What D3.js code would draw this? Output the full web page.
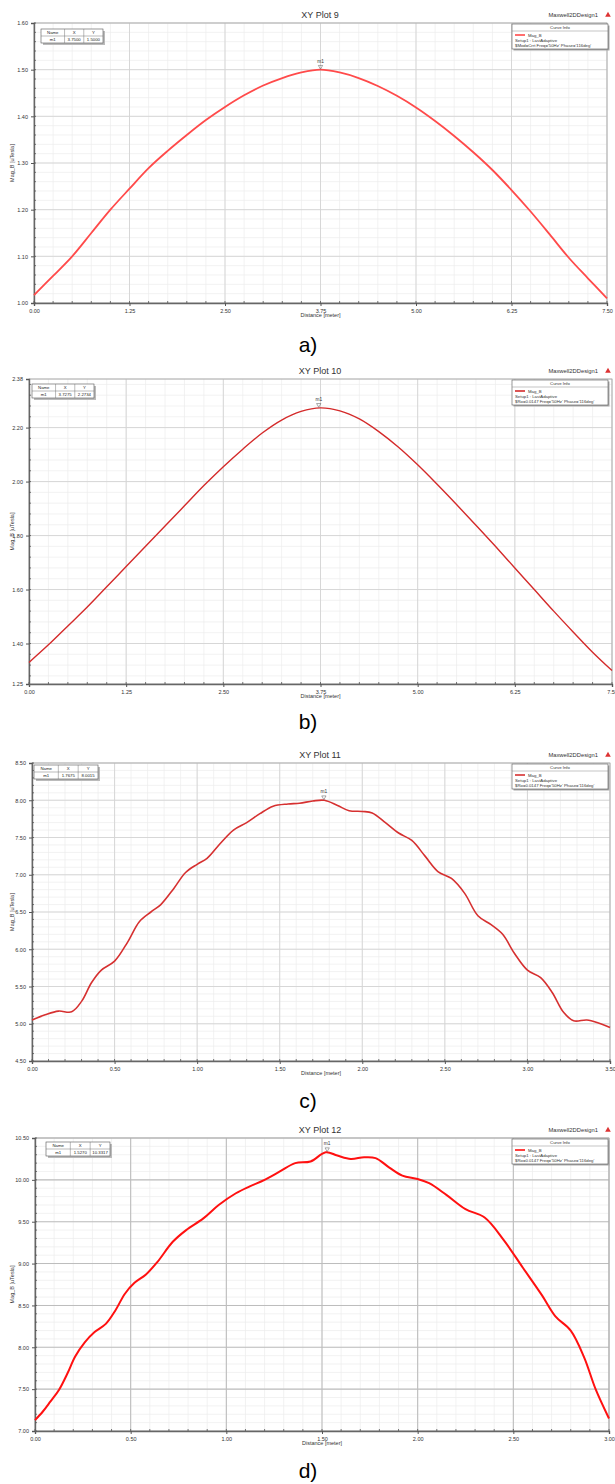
<!DOCTYPE html>
<html>
<head>
<meta charset="utf-8">
<script src="https://cdn.jsdelivr.net/npm/d3@7"></script>
<style>
  body { margin: 0; background: #fff; }
  svg text { font-family: Arial, "Liberation Sans", sans-serif; }
</style>
</head>
<body>
<svg id="fig" width="615" height="1484"></svg>
<script>
// ---- data ----
// a) XY Plot 9
const aDist = [0, 0.25, 0.5, 0.75, 1.0, 1.25, 1.5, 1.75, 2.0, 2.25, 2.5, 2.75, 3.0, 3.25, 3.5, 3.75,
  4.0, 4.25, 4.5, 4.75, 5.0, 5.25, 5.5, 5.75, 6.0, 6.25, 6.5, 6.75, 7.0, 7.25, 7.5];
const aMag = [1.017, 1.058, 1.100, 1.150, 1.200, 1.245, 1.289, 1.326, 1.360, 1.392, 1.420, 1.445, 1.466, 1.482, 1.494, 1.500,
  1.494, 1.482, 1.465, 1.444, 1.419, 1.390, 1.358, 1.323, 1.285, 1.242, 1.196, 1.147, 1.097, 1.053, 1.010];
const aYTicks = [1.00, 1.10, 1.20, 1.30, 1.40, 1.50, 1.60];
const aXTicks = [0, 1.25, 2.5, 3.75, 5.0, 6.25, 7.5];

// b) XY Plot 10
const bDist = aDist;
const bMag = [1.330, 1.395, 1.465, 1.535, 1.610, 1.685, 1.760, 1.835, 1.910, 1.985, 2.055, 2.120, 2.180, 2.228, 2.260, 2.273,
  2.262, 2.232, 2.185, 2.128, 2.062, 1.990, 1.915, 1.838, 1.760, 1.680, 1.600, 1.520, 1.443, 1.368, 1.300];
const bYTicks = [1.25, 1.40, 1.60, 1.80, 2.00, 2.20, 2.38];
const bXTicks = [0, 1.25, 2.5, 3.75, 5.0, 6.25, 7.5];

// c) XY Plot 11
const cDist = [0.00, 0.08, 0.16, 0.24, 0.30, 0.36, 0.42, 0.50, 0.58, 0.65, 0.72, 0.78, 0.86, 0.93, 1.00, 1.06, 1.14,
  1.22, 1.30, 1.38, 1.46, 1.55, 1.62, 1.70, 1.77, 1.85, 1.92, 2.00, 2.06, 2.14, 2.22, 2.30, 2.38, 2.46, 2.54,
  2.62, 2.70, 2.78, 2.85, 2.92, 3.00, 3.08, 3.15, 3.22, 3.28, 3.36, 3.43, 3.50];
const cMag = [5.05, 5.12, 5.17, 5.16, 5.30, 5.55, 5.72, 5.84, 6.10, 6.37, 6.50, 6.60, 6.82, 7.03, 7.14, 7.22, 7.42,
  7.60, 7.70, 7.82, 7.92, 7.95, 7.96, 7.99, 8.00, 7.93, 7.86, 7.85, 7.83, 7.70, 7.56, 7.46, 7.25, 7.04, 6.95,
  6.75, 6.45, 6.33, 6.20, 5.95, 5.72, 5.62, 5.42, 5.15, 5.04, 5.05, 5.01, 4.95];
const cYTicks = [4.50, 5.00, 5.50, 6.00, 6.50, 7.00, 7.50, 8.00, 8.50];
const cXTicks = [0, 0.5, 1.0, 1.5, 2.0, 2.5, 3.0, 3.5];

// d) XY Plot 12
const dDist = [0.00, 0.04, 0.08, 0.125, 0.17, 0.21, 0.26, 0.31, 0.37, 0.42, 0.47, 0.52, 0.58, 0.64, 0.72, 0.79, 0.88,
  0.96, 1.05, 1.12, 1.20, 1.28, 1.36, 1.44, 1.52, 1.58, 1.65, 1.72, 1.78, 1.85, 1.92, 2.00, 2.06, 2.15, 2.25,
  2.35, 2.45, 2.55, 2.65, 2.72, 2.80, 2.87, 2.93, 3.00];
const dMag = [7.13, 7.23, 7.35, 7.49, 7.69, 7.89, 8.06, 8.18, 8.28, 8.44, 8.64, 8.77, 8.87, 9.02, 9.26, 9.40, 9.54,
  9.70, 9.84, 9.92, 10.00, 10.10, 10.20, 10.22, 10.33, 10.29, 10.25, 10.27, 10.26, 10.15, 10.05, 10.01, 9.96, 9.82, 9.65,
  9.55, 9.28, 8.95, 8.62, 8.37, 8.20, 7.88, 7.50, 7.15];
const dYTicks = [7.00, 7.50, 8.00, 8.50, 9.00, 9.50, 10.00, 10.50];
const dXTicks = [0, 0.5, 1.0, 1.5, 2.0, 2.5, 3.0];

// marker tables
const markerX = ["3.7500", "3.7275", "1.7675", "1.5270"];
const markerY = ["1.5000", "2.2734", "8.0015", "10.3317"];
const markerAt = [[3.75, 1.50], [3.7275, 2.2734], [1.7675, 8.0015], [1.527, 10.3317]];

const svg = d3.select('svg#fig');

const panels = [
  {title: 'XY Plot 9', dist: aDist, mag: aMag, yTicks: aYTicks, xTicks: aXTicks, xDom: [0, 7.5], yDom: [1.0, 1.6],
   xMinor: 0.25, yMinor: 0.02, box: {l: 34, r: 607, t: 23, b: 303}, cap: 'a)', capY: 352, color: '#ff4a4a', lw: 1.8,
   tableW: 62, tableX: 7, tableY: 6, setup: "$Mod=Crrt Freq='50Hz' Phase='116deg'"},
  {title: 'XY Plot 10', dist: bDist, mag: bMag, yTicks: bYTicks, xTicks: bXTicks, xDom: [0, 7.5], yDom: [1.25, 2.38],
   xMinor: 0.25, yMinor: 0.04, box: {l: 29, r: 612, t: 379, b: 684}, cap: 'b)', capY: 729, color: '#d42a2a', lw: 1.4,
   tableW: 62, tableX: 3, tableY: 5, setup: "$Ro=0.0147 Freq='50Hz' Phase='116deg'"},
  {title: 'XY Plot 11', dist: cDist, mag: cMag, yTicks: cYTicks, xTicks: cXTicks, xDom: [0, 3.5], yDom: [4.5, 8.5],
   xMinor: 0.1, yMinor: 0.1, box: {l: 32, r: 610, t: 763, b: 1061}, cap: 'c)', capY: 1108, color: '#d63030', lw: 1.6,
   tableW: 64, tableX: 2, tableY: 2, setup: "$Ro=0.0147 Freq='50Hz' Phase='116deg'"},
  {title: 'XY Plot 12', dist: dDist, mag: dMag, yTicks: dYTicks, xTicks: dXTicks, xDom: [0, 3.0], yDom: [7.0, 10.5],
   xMinor: 0.1, yMinor: 0.1, box: {l: 35, r: 609, t: 1138, b: 1431}, cap: 'd)', capY: 1478, color: '#ff1010', lw: 2,
   tableW: 64, tableX: 11, tableY: 4, setup: "$Ro=0.0147 Freq='50Hz' Phase='116deg'", strongGrid: true}
];

panels.forEach((p, i) => drawPanel(p, i));

function drawPanel(p, i) {
  const b = p.box;
  const g = svg.append('g');
  const x = d3.scaleLinear().domain(p.xDom).range([b.l, b.r]);
  const y = d3.scaleLinear().domain(p.yDom).range([b.b, b.t]);

  // minor ticks / grid
  const xMin = d3.range(p.xDom[0], p.xDom[1] + 1e-9, p.xMinor);
  const yStart = Math.ceil(p.yDom[0] / p.yMinor - 1e-9) * p.yMinor;
  const yMin = d3.range(yStart, p.yDom[1] + 1e-9, p.yMinor);

  g.append('g').selectAll('line').data(xMin).join('line')
    .attr('x1', d => x(d)).attr('x2', d => x(d)).attr('y1', b.t).attr('y2', b.b)
    .attr('stroke', '#ececec').attr('stroke-width', 0.7);
  g.append('g').selectAll('line').data(yMin).join('line')
    .attr('x1', b.l).attr('x2', b.r).attr('y1', d => y(d)).attr('y2', d => y(d))
    .attr('stroke', '#ececec').attr('stroke-width', 0.7);

  // major grid
  const majorCol = p.strongGrid ? '#bdbdbd' : '#d4d4d4';
  g.append('g').selectAll('line').data(p.xTicks).join('line')
    .attr('x1', d => x(d)).attr('x2', d => x(d)).attr('y1', b.t).attr('y2', b.b)
    .attr('stroke', majorCol).attr('stroke-width', p.strongGrid ? 1.1 : 0.9);
  g.append('g').selectAll('line').data(p.yTicks).join('line')
    .attr('x1', b.l).attr('x2', b.r).attr('y1', d => y(d)).attr('y2', d => y(d))
    .attr('stroke', majorCol).attr('stroke-width', p.strongGrid ? 1.1 : 0.9);

  // frame
  g.append('rect').attr('x', b.l).attr('y', b.t).attr('width', b.r - b.l).attr('height', b.b - b.t)
    .attr('fill', 'none').attr('stroke', '#a8a8a8').attr('stroke-width', 0.8);

  // axes
  const xAxis = d3.axisBottom(x).tickValues(p.xTicks).tickFormat(d3.format('.2f')).tickSize(3).tickPadding(3);
  const yAxis = d3.axisLeft(y).tickValues(p.yTicks).tickFormat(d3.format('.2f')).tickSize(3).tickPadding(3);
  const gx = g.append('g').attr('transform', `translate(0,${b.b})`).call(xAxis);
  const gy = g.append('g').attr('transform', `translate(${b.l},0)`).call(yAxis);
  [gx, gy].forEach(a => {
    a.select('.domain').attr('stroke', '#666').attr('stroke-width', 1.4);
    a.selectAll('.tick line').attr('stroke', '#555');
    a.selectAll('text').attr('font-size', 5.5).attr('fill', '#333')
      .attr('font-family', 'Arial, "Liberation Sans", sans-serif');
  });
  // minor tick marks on the axes
  g.append('g').selectAll('line').data(xMin).join('line')
    .attr('x1', d => x(d)).attr('x2', d => x(d)).attr('y1', b.b).attr('y2', b.b - 2)
    .attr('stroke', '#555').attr('stroke-width', 0.8);
  g.append('g').selectAll('line').data(yMin).join('line')
    .attr('x1', b.l).attr('x2', b.l + 2).attr('y1', d => y(d)).attr('y2', d => y(d))
    .attr('stroke', '#555').attr('stroke-width', 0.8);

  // axis titles
  g.append('text').attr('x', (b.l + b.r) / 2).attr('y', b.b + 14).attr('text-anchor', 'middle')
    .attr('font-size', 5.5).attr('fill', '#333').text('Distance [meter]');
  g.append('text').attr('transform', `translate(14,${(b.t + b.b) / 2}) rotate(-90)`).attr('text-anchor', 'middle')
    .attr('font-size', 5.5).attr('fill', '#333').text('Mag_B [uTesla]');

  // title and design name
  g.append('text').attr('x', 320).attr('y', b.t - 5).attr('text-anchor', 'middle')
    .attr('font-size', 9).attr('fill', '#333').text(p.title);
  g.append('text').attr('x', 598).attr('y', b.t - 6).attr('text-anchor', 'end')
    .attr('font-size', 5.8).attr('fill', '#333').text('Maxwell2DDesign1');
  g.append('path').attr('d', d3.symbol(d3.symbolTriangle, 14)())
    .attr('transform', `translate(608,${b.t - 8})`).attr('fill', '#d33');

  // curve
  const pts = p.dist.map((d, k) => [d, p.mag[k]]);
  const line = d3.line().x(d => x(d[0])).y(d => y(d[1])).curve(d3.curveCatmullRom.alpha(0.5));
  g.append('path').datum(pts).attr('d', line)
    .attr('fill', 'none').attr('stroke', p.color).attr('stroke-width', p.lw);

  // marker m1
  const m = markerAt[i];
  g.append('path').attr('d', d3.symbol(d3.symbolTriangle, 8)())
    .attr('transform', `translate(${x(m[0])},${y(m[1]) - 3}) rotate(180)`)
    .attr('fill', 'none').attr('stroke', '#555').attr('stroke-width', 0.5);
  g.append('text').attr('x', x(m[0])).attr('y', y(m[1]) - 7).attr('text-anchor', 'middle')
    .attr('font-size', 4.8).attr('fill', '#333').text('m1');

  // marker table
  const tx = b.l + p.tableX, ty = b.t + p.tableY, tw = p.tableW, rh = 7;
  const cols = [0, 0.38, 0.69, 1].map(f => tx + f * tw);
  g.append('rect').attr('x', tx + 2).attr('y', ty + 2).attr('width', tw).attr('height', rh * 2)
    .attr('fill', '#bbb');
  g.append('rect').attr('x', tx).attr('y', ty).attr('width', tw).attr('height', rh * 2)
    .attr('fill', '#fff').attr('stroke', '#555').attr('stroke-width', 0.6);
  g.append('line').attr('x1', tx).attr('x2', tx + tw).attr('y1', ty + rh).attr('y2', ty + rh)
    .attr('stroke', '#777').attr('stroke-width', 0.5);
  [cols[1], cols[2]].forEach(cx => g.append('line').attr('x1', cx).attr('x2', cx)
    .attr('y1', ty).attr('y2', ty + rh * 2).attr('stroke', '#777').attr('stroke-width', 0.5));
  const hdr = ['Name', 'X', 'Y'], row = ['m1', markerX[i], markerY[i]];
  hdr.forEach((h, k) => {
    const cx = (cols[k] + cols[k + 1]) / 2;
    g.append('text').attr('x', cx).attr('y', ty + 5.3).attr('text-anchor', 'middle')
      .attr('font-size', 4.3).attr('fill', '#222').text(h);
    g.append('text').attr('x', cx).attr('y', ty + rh + 5.3).attr('text-anchor', 'middle')
      .attr('font-size', 4.3).attr('fill', '#222').text(row[k]);
  });

  // curve info legend
  const lx = 512, ly = b.t + 1, lw = 96, lh = 25;
  g.append('rect').attr('x', lx + 1.5).attr('y', ly + 1.5).attr('width', lw).attr('height', lh).attr('fill', '#aaa');
  g.append('rect').attr('x', lx).attr('y', ly).attr('width', lw).attr('height', lh)
    .attr('fill', '#fff').attr('stroke', '#555').attr('stroke-width', 0.6);
  g.append('line').attr('x1', lx).attr('x2', lx + lw).attr('y1', ly + 7).attr('y2', ly + 7)
    .attr('stroke', '#888').attr('stroke-width', 0.5);
  g.append('text').attr('x', lx + lw / 2).attr('y', ly + 5.3).attr('text-anchor', 'middle')
    .attr('font-size', 4.3).attr('fill', '#333').text('Curve Info');
  g.append('line').attr('x1', lx + 3).attr('x2', lx + 13).attr('y1', ly + 11).attr('y2', ly + 11)
    .attr('stroke', p.color).attr('stroke-width', 1.6);
  g.append('text').attr('x', lx + 16).attr('y', ly + 12.5).attr('font-size', 4.3).attr('fill', '#333').text('Mag_B');
  g.append('text').attr('x', lx + 3).attr('y', ly + 17.5).attr('font-size', 4.3).attr('fill', '#333')
    .text('Setup1 : LastAdaptive');
  g.append('text').attr('x', lx + 3).attr('y', ly + 22.5).attr('font-size', 4.3).attr('fill', '#333').text(p.setup);

  // caption
  svg.append('text').attr('x', 308).attr('y', p.capY).attr('text-anchor', 'middle')
    .attr('font-family', '"Liberation Serif", "Times New Roman", serif').attr('font-size', 21)
    .attr('fill', '#000').text(p.cap);
}
</script>
</body>
</html>
